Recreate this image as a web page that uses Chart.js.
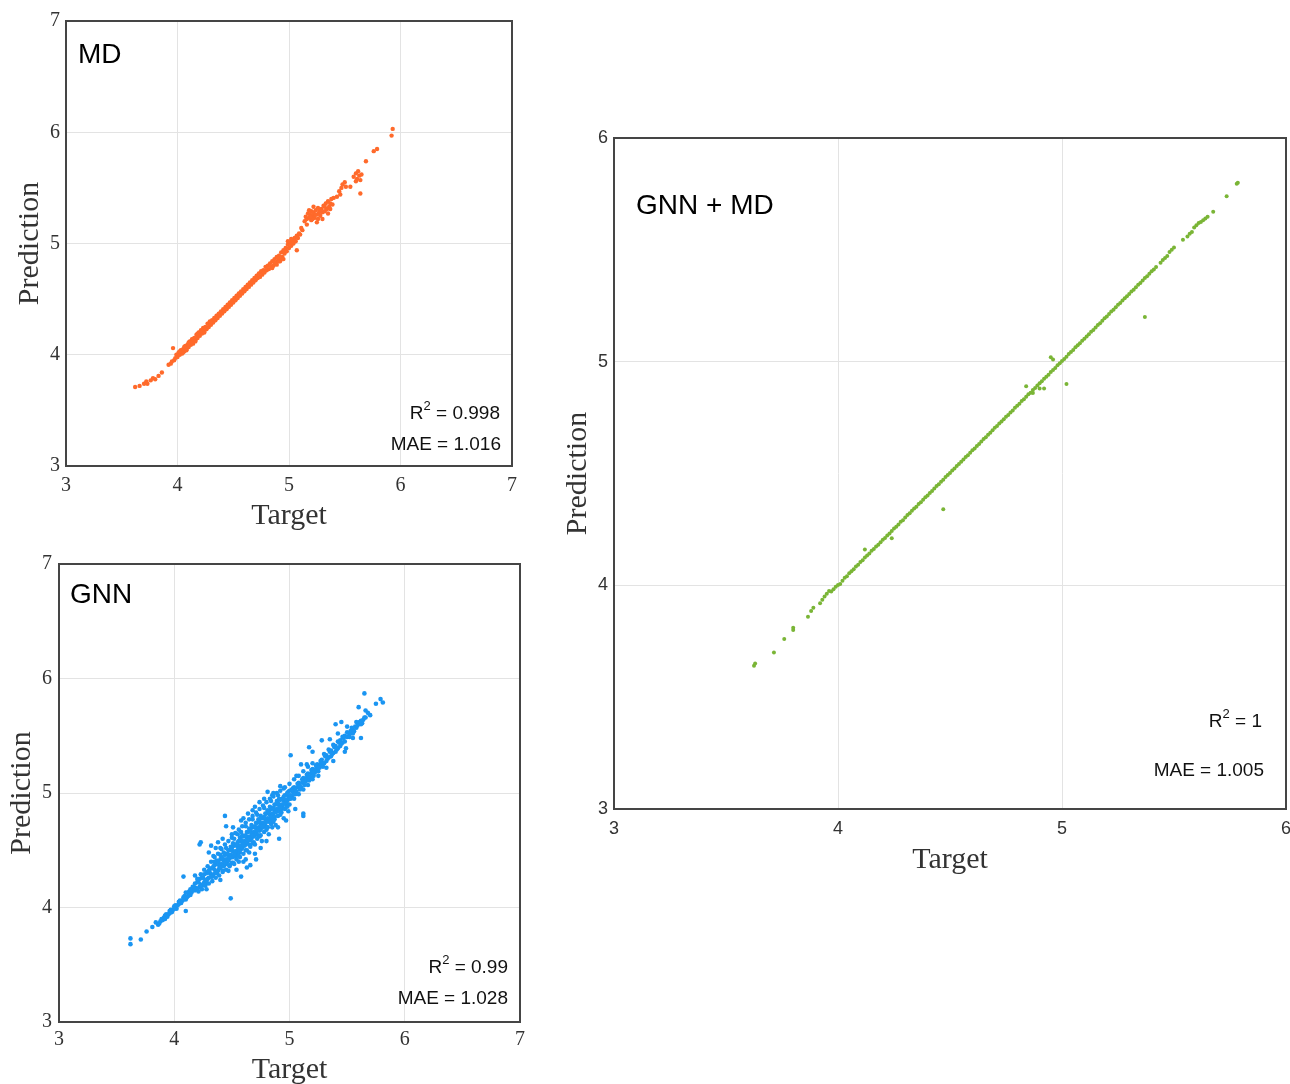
<!DOCTYPE html>
<html>
<head>
<meta charset="utf-8">
<script src="https://cdn.jsdelivr.net/npm/chart.js@4.4.1/dist/chart.umd.min.js"></script>
<style>
  html, body { margin: 0; padding: 0; background: #fff; overflow: hidden; width: 1290px; height: 1084px; }
  canvas { position: absolute; }
</style>
</head>
<body>
<canvas id="c1" width="540" height="545" style="left:0px;top:0px;"></canvas>
<canvas id="c2" width="545" height="560" style="left:0px;top:545px;"></canvas>
<canvas id="c3" width="775" height="800" style="left:545px;top:100px;"></canvas>
<script>
// ---------------- DATA ----------------
const panelLabels = ['MD', 'GNN', 'GNN + MD'];
const r2Values = ['0.998', '0.99', '1'];
const maeValues = ['1.016', '1.028', '1.005'];
const xTitle = 'Target';
const yTitle = 'Prediction';
const ticksSmall = [3, 4, 5, 6, 7];
const ticksLarge = [3, 4, 5, 6];

// MD: [target, prediction]
const mdPairs = [
  [3.62,3.71],[3.66,3.72],[3.70,3.74],[3.72,3.76],[3.73,3.74],[3.76,3.77],[3.78,3.79],[3.80,3.78],
  [3.83,3.81],[3.86,3.84],[3.92,3.91],[3.94,3.92],[3.95,3.94],[3.96,4.06],[3.97,3.95],
  [3.98,3.97],[3.99,4.00],[4.00,3.98],[4.01,4.02],[4.02,4.00],[4.03,4.04],[4.04,4.01],[4.05,4.05],
  [4.06,4.03],[4.07,4.08],[4.08,4.05],[4.09,4.09],[4.10,4.07],[4.11,4.12],[4.12,4.09],[4.13,4.14],
  [4.14,4.10],[4.15,4.15],[4.16,4.13],[4.17,4.18],[4.18,4.15],[4.19,4.20],[4.20,4.17],[4.21,4.22],
  [4.22,4.19],[4.23,4.24],[4.24,4.21],[4.25,4.25],[4.26,4.23],[4.27,4.28],[4.28,4.25],[4.29,4.30],
  [4.30,4.27],[4.31,4.31],[4.32,4.29],[4.33,4.33],[4.34,4.31],[4.35,4.35],[4.36,4.33],[4.37,4.37],
  [4.38,4.35],[4.39,4.39],[4.40,4.37],[4.41,4.41],[4.42,4.39],[4.43,4.43],[4.44,4.41],[4.45,4.45],
  [4.46,4.43],[4.47,4.47],[4.48,4.45],[4.49,4.49],[4.50,4.47],[4.51,4.51],[4.52,4.49],[4.53,4.53],
  [4.54,4.51],[4.55,4.55],[4.56,4.53],[4.57,4.57],[4.58,4.55],[4.59,4.59],[4.60,4.57],[4.61,4.61],
  [4.62,4.59],[4.63,4.63],[4.64,4.61],[4.65,4.65],[4.66,4.63],[4.67,4.67],[4.68,4.65],[4.69,4.69],
  [4.70,4.67],[4.71,4.71],[4.72,4.69],[4.73,4.73],[4.74,4.70],[4.75,4.75],[4.76,4.72],[4.77,4.76],
  [4.78,4.74],[4.79,4.79],[4.80,4.76],[4.81,4.80],[4.82,4.77],[4.83,4.82],[4.84,4.79],[4.85,4.84],
  [4.86,4.80],[4.87,4.86],[4.88,4.82],[4.89,4.88],[4.90,4.84],[4.91,4.89],[4.92,4.86],[4.93,4.92],
  [4.94,4.88],[4.95,4.94],[4.96,4.91],[4.97,4.96],[4.98,4.93],[4.99,4.99],[5.00,4.96],[5.01,5.01],
  [5.02,4.98],[5.03,5.03],[5.04,5.00],[5.05,5.05],[5.06,5.02],[5.07,5.07],[5.08,5.05],[5.09,5.09],
  [5.10,5.08],[5.12,5.12],
  [4.05,4.02],[4.13,4.11],[4.22,4.21],[4.30,4.29],[4.85,4.78],[4.89,4.81],[4.92,4.84],[4.95,4.86],
  [4.90,4.87],[4.87,4.83],[5.07,4.94],[4.91,4.84],[5.02,5.04],[4.99,5.02],[5.11,5.14],[5.16,5.17],
  [4.02,4.03],[4.06,4.07],[4.10,4.11],[4.14,4.14],[4.18,4.19],[4.08,4.04],[4.16,4.12],[4.24,4.20],
  [5.14,5.20],[5.15,5.24],[5.16,5.22],[5.17,5.27],[5.18,5.23],[5.19,5.26],[5.20,5.21],[5.20,5.29],
  [5.21,5.25],[5.22,5.28],[5.23,5.23],[5.24,5.30],[5.25,5.26],[5.26,5.22],[5.26,5.32],[5.27,5.28],
  [5.28,5.25],[5.29,5.31],[5.30,5.28],[5.31,5.34],[5.32,5.29],[5.33,5.36],[5.34,5.31],[5.35,5.38],
  [5.36,5.33],[5.37,5.36],[5.38,5.40],[5.39,5.35],[5.40,5.41],[5.25,5.19],[5.30,5.22],[5.35,5.27],
  [5.22,5.33],[5.18,5.30],[5.37,5.31],[5.21,5.22],[5.24,5.26],[5.28,5.30],[5.32,5.33],[5.19,5.24],
  [5.43,5.42],[5.45,5.47],[5.47,5.50],[5.48,5.53],[5.50,5.55],[5.51,5.51],[5.46,5.44],[5.55,5.51],
  [5.58,5.60],[5.60,5.63],[5.61,5.58],[5.62,5.65],[5.63,5.61],[5.64,5.57],[5.65,5.62],[5.60,5.56],
  [5.64,5.45],[5.69,5.74],[5.76,5.83],[5.79,5.85],[5.92,5.97],[5.93,6.03]
];

// GNN: [target, prediction]
const gnnPairs = [
  [3.86,3.85],[3.88,3.88],[3.90,3.89],[3.92,3.93],[3.94,3.92],[3.96,3.97],[3.98,3.96],[4.00,4.01],
  [4.02,3.99],[4.04,4.05],[4.06,4.04],[4.08,4.09],[4.10,4.07],[4.12,4.13],[4.14,4.11],[4.16,4.18],
  [4.18,4.15],[4.20,4.22],[4.22,4.18],[4.24,4.26],[4.26,4.22],[4.28,4.30],[4.30,4.26],[4.32,4.34],
  [4.34,4.29],[4.36,4.38],[4.38,4.32],[4.40,4.42],[4.42,4.36],[4.44,4.46],[4.46,4.40],[4.48,4.50],
  [4.50,4.44],[4.52,4.54],[4.54,4.47],[4.56,4.58],[4.58,4.51],[4.60,4.62],[4.62,4.55],[4.64,4.66],
  [4.66,4.59],[4.68,4.70],[4.70,4.63],[4.72,4.74],[4.74,4.67],[4.76,4.78],[4.78,4.71],[4.80,4.82],
  [4.82,4.75],[4.84,4.86],[4.86,4.80],[4.88,4.90],[4.90,4.84],[4.92,4.94],[4.94,4.88],[4.96,4.98],
  [4.98,4.93],[5.00,5.02],[5.02,4.97],[5.04,5.05],[5.06,5.01],[5.08,5.09],[5.10,5.05],[5.12,5.13],
  [5.14,5.10],[5.16,5.17],[5.18,5.14],[5.20,5.21],[5.22,5.18],[5.24,5.25],[5.26,5.22],[5.28,5.29],
  [5.30,5.26],[5.32,5.33],[5.34,5.31],[5.36,5.37],[5.38,5.35],[5.40,5.41],[5.42,5.39],[5.44,5.46],
  [5.46,5.44],[5.48,5.50],[5.52,5.51],[5.55,5.55],[5.58,5.57],[5.60,5.61],[5.62,5.60],[5.64,5.64],
  [4.31,4.30],[4.35,4.33],[4.39,4.37],[4.43,4.41],[4.47,4.45],[4.51,4.49],[4.55,4.53],[4.59,4.57],
  [4.63,4.61],[4.67,4.65],[4.71,4.69],[4.75,4.73],[4.79,4.77],[4.83,4.81],[4.87,4.85],[4.91,4.89],
  [4.95,4.93],[4.99,4.97],[5.03,5.01],[5.07,5.05],[5.11,5.09],[5.15,5.13],[5.19,5.17],[5.23,5.21],
  [5.27,5.25],
  [4.29,4.25],[4.31,4.34],[4.33,4.27],[4.35,4.37],[4.37,4.30],[4.37,4.41],[4.39,4.34],[4.41,4.44],
  [4.41,4.38],[4.43,4.36],[4.43,4.48],[4.45,4.42],[4.45,4.38],[4.47,4.50],[4.47,4.41],[4.49,4.46],
  [4.49,4.53],[4.51,4.44],[4.51,4.56],[4.53,4.49],[4.53,4.45],[4.55,4.57],[4.55,4.50],[4.57,4.54],
  [4.57,4.61],[4.57,4.48],[4.59,4.52],[4.59,4.63],[4.61,4.58],[4.61,4.54],[4.63,4.66],[4.63,4.57],
  [4.65,4.62],[4.65,4.69],[4.65,4.55],[4.67,4.60],[4.67,4.72],[4.69,4.66],[4.69,4.62],[4.71,4.74],
  [4.71,4.65],[4.73,4.70],[4.73,4.77],[4.73,4.63],[4.75,4.68],[4.75,4.80],[4.77,4.74],[4.77,4.70],
  [4.79,4.82],[4.79,4.72],[4.81,4.78],[4.81,4.85],[4.81,4.70],[4.83,4.76],[4.83,4.88],[4.85,4.82],
  [4.85,4.78],[4.87,4.90],[4.87,4.79],[4.89,4.86],[4.89,4.93],[4.91,4.85],[4.91,4.95],[4.93,4.90],
  [4.93,4.86],[4.95,4.97],[4.97,4.94],[4.97,4.90],[4.99,5.01],[5.01,4.98],[5.01,4.95],[5.03,5.04],
  [5.05,5.02],[5.05,4.99],[5.07,5.08],[5.09,5.06],[5.09,5.03],[5.11,5.12],[5.13,5.10],[5.13,5.07],
  [5.15,5.16],[5.17,5.14],[5.17,5.11],[5.19,5.20],[5.21,5.18],[5.21,5.15],[5.23,5.24],[5.25,5.22],
  [5.25,5.19],[5.27,5.28],[5.29,5.26],[5.29,5.23],[5.31,5.32],[5.33,5.30],[5.35,5.36],[5.37,5.34],
  [5.39,5.40],[5.41,5.38],[5.43,5.44],[5.45,5.43],[5.47,5.48],[5.50,5.49],[5.53,5.54],[5.57,5.58],
  [5.61,5.62],[5.63,5.61],[5.65,5.66],
  [3.87,3.86],[3.89,3.90],[3.91,3.91],[3.93,3.94],[3.95,3.94],[3.97,3.98],[3.99,3.98],[4.01,4.02],
  [4.03,4.02],[4.05,4.06],[4.07,4.06],[4.09,4.10],[4.11,4.09],[4.13,4.14],[4.15,4.13],[4.17,4.18],
  [4.19,4.17],[4.21,4.22],[4.23,4.20],[4.25,4.26],[4.27,4.24],[4.29,4.31],[4.20,4.16],[4.24,4.19],
  [4.28,4.22],[4.26,4.29],[4.22,4.25],
  [4.20,4.25],[4.23,4.29],[4.26,4.33],[4.29,4.36],[4.32,4.40],[4.35,4.44],[4.38,4.47],[4.41,4.51],
  [4.44,4.55],[4.47,4.58],[4.50,4.61],[4.53,4.65],[4.56,4.68],[4.59,4.71],[4.62,4.74],[4.65,4.77],
  [4.68,4.80],[4.71,4.83],[4.74,4.86],[4.77,4.89],[4.80,4.92],[4.83,4.95],[4.86,4.97],[4.89,5.00],
  [4.92,5.02],[4.96,5.05],[5.00,5.08],[5.04,5.12],[5.08,5.15],[5.12,5.19],[5.16,5.23],[5.20,5.26],
  [4.21,4.14],[4.24,4.16],[4.27,4.19],[4.30,4.21],[4.33,4.23],[4.36,4.26],[4.39,4.28],[4.42,4.31],
  [4.45,4.33],[4.48,4.36],[4.51,4.39],[4.54,4.42],[4.57,4.44],[4.60,4.47],[4.63,4.50],[4.66,4.53],
  [4.69,4.57],[4.72,4.60],[4.75,4.63],[4.78,4.66],[4.81,4.70],[4.84,4.73],[4.87,4.77],[4.90,4.80],
  [4.93,4.83],[4.96,4.86],[5.00,4.90],[5.04,4.95],[5.08,4.99],[5.12,5.03],[5.16,5.07],[5.20,5.12],
  [4.30,4.32],[4.34,4.36],[4.38,4.40],[4.42,4.43],[4.46,4.47],[4.50,4.52],[4.54,4.55],[4.58,4.59],
  [4.62,4.63],[4.66,4.68],[4.70,4.71],[4.74,4.75],[4.78,4.79],[4.82,4.84],[4.86,4.87],[4.90,4.91],
  [4.94,4.95],[4.98,5.00],[5.02,5.03],
  [4.32,4.27],[4.36,4.31],[4.40,4.35],[4.44,4.39],[4.48,4.43],[4.52,4.46],[4.56,4.51],[4.60,4.55],
  [4.64,4.59],[4.68,4.63],[4.72,4.67],[4.76,4.71],[4.80,4.75],[4.84,4.79],[4.88,4.83],[4.92,4.87],
  [4.96,4.91],[5.00,4.95],[5.04,4.99],
  [5.30,5.34],[5.34,5.38],[5.38,5.42],[5.42,5.45],[5.46,5.49],[5.50,5.53],[5.32,5.28],[5.36,5.32],
  [5.40,5.36],[5.44,5.41],[5.48,5.45],[5.52,5.49],[5.56,5.54],[5.54,5.57],[5.59,5.59],[5.62,5.63],
  [3.92,3.90],[3.96,3.95],[4.00,3.99],[4.04,4.03],[4.08,4.07],[4.12,4.10],[4.16,4.15],[4.10,4.13],
  [4.14,4.16],[4.18,4.21],
  [4.45,4.52],[4.52,4.60],[4.58,4.66],[4.62,4.71],[4.68,4.77],[4.72,4.81],[4.78,4.87],[4.84,4.93],
  [4.90,4.98],[4.95,5.04],[4.50,4.39],[4.56,4.45],[4.62,4.50],[4.68,4.56],[4.74,4.62],[4.80,4.68],
  [4.86,4.75],[4.92,4.81],[4.98,4.88],[4.40,4.46],[4.35,4.40],[4.48,4.37],[4.42,4.32],
  [3.62,3.73],[3.62,3.68],[3.71,3.72],[3.76,3.79],[3.81,3.83],[3.84,3.87],
  [4.10,3.97],[4.08,4.27],[4.23,4.57],[4.22,4.55],[4.49,4.08],[4.44,4.80],[4.45,4.71],[4.51,4.70],
  [4.58,4.76],[4.63,4.35],[4.56,4.40],[4.71,4.42],[4.91,4.60],[5.01,5.33],[5.12,4.82],[5.12,4.80],
  [4.99,4.84],[4.81,5.01],[5.17,5.40],[5.28,5.46],[5.40,5.60],[5.45,5.62],[5.49,5.39],[5.62,5.48],
  [4.32,4.54],[4.38,4.57],[4.52,4.38],[4.47,4.32],[4.28,4.16],[4.18,4.28],[4.26,4.20],[4.34,4.45],
  [4.40,4.52],[4.55,4.64],[4.60,4.40],[4.65,4.48],[4.70,4.55],[4.76,4.58],[4.82,4.64],[4.85,4.70],
  [4.88,4.72],[4.95,4.78],[4.78,4.95],[4.70,4.88],[4.64,4.82],[4.86,5.00],[4.92,5.06],[5.06,5.15],
  [5.15,5.25],[5.25,5.15],[5.32,5.22],[5.35,5.47],[5.42,5.52],[5.50,5.58],[5.55,5.48],[5.58,5.62],
  [5.65,5.87],[5.79,5.82],[5.81,5.79],[5.75,5.78],[5.60,5.75],[5.66,5.72],[5.70,5.68],[5.66,5.66],
  [5.68,5.70],[5.55,5.52],
  [4.30,4.48],[4.36,4.52],[4.42,4.60],[4.50,4.64],[4.60,4.78],[4.68,4.85],[4.74,4.92],[4.40,4.24],
  [4.54,4.33],[4.62,4.42],[4.70,4.47],[4.80,4.58],[4.90,4.70],[4.97,4.76],[5.05,4.86],[4.75,4.52],
  [4.58,4.27],[4.66,4.37],[4.85,4.98],[5.20,5.36],[5.10,5.25],[5.38,5.28],[5.48,5.36]
];

// GNN + MD: [target, prediction]
const gnnMdPairs = [
  [3.625,3.64],[3.63,3.65],[3.714,3.70],[3.76,3.76],[3.80,3.81],[3.80,3.80],[3.866,3.86],[3.88,3.885],
  [3.89,3.90],[3.92,3.92],[3.93,3.935],[3.94,3.95],[3.95,3.962],[3.96,3.975],[3.97,3.972],[3.98,3.983],
  [3.99,3.994],[4.00,4.001],[4.01,4.006],[4.02,4.02],[4.03,4.034],[4.04,4.041],[4.05,4.054],[4.06,4.063],
  [4.07,4.072],[4.08,4.084],[4.09,4.092],[4.10,4.104],[4.11,4.112],[4.12,4.124],[4.13,4.133],[4.14,4.142],
  [4.15,4.155],[4.16,4.163],[4.17,4.174],[4.18,4.181],[4.19,4.193],[4.20,4.204],[4.21,4.212],[4.22,4.223],
  [4.23,4.232],[4.24,4.243],[4.25,4.254],[4.26,4.262],[4.27,4.272],[4.28,4.284],[4.29,4.291],[4.30,4.303],
  [4.31,4.314],[4.32,4.322],[4.33,4.334],[4.34,4.343],[4.35,4.351],[4.36,4.364],[4.37,4.372],[4.38,4.383],
  [4.39,4.394],[4.40,4.402],[4.41,4.413],[4.42,4.422],[4.43,4.433],[4.44,4.444],[4.45,4.452],[4.46,4.463],
  [4.47,4.472],[4.48,4.484],[4.49,4.493],[4.50,4.502],[4.51,4.513],[4.52,4.522],[4.53,4.534],[4.54,4.543],
  [4.55,4.552],[4.56,4.563],[4.57,4.574],[4.58,4.582],[4.59,4.593],[4.60,4.604],[4.61,4.612],[4.62,4.623],
  [4.63,4.632],[4.64,4.643],[4.65,4.654],[4.66,4.662],[4.67,4.673],[4.68,4.682],[4.69,4.693],[4.70,4.704],
  [4.71,4.712],[4.72,4.723],[4.73,4.733],[4.74,4.742],[4.75,4.754],[4.76,4.762],[4.77,4.773],[4.78,4.782],
  [4.79,4.794],[4.80,4.803],[4.81,4.812],[4.82,4.824],[4.83,4.832],[4.84,4.843],[4.85,4.854],[4.86,4.861],
  [4.87,4.873],[4.88,4.882],[4.89,4.894],[4.90,4.903],[4.91,4.912],[4.92,4.924],[4.93,4.933],[4.94,4.942],
  [4.95,4.954],[4.96,4.963],[4.97,4.972],[4.98,4.984],[4.99,4.993],[5.00,5.003],[5.01,5.012],[5.02,5.022],
  [5.03,5.034],[5.04,5.043],[5.05,5.052],[5.06,5.064],[5.07,5.073],[5.08,5.082],[5.09,5.094],[5.10,5.103],
  [5.11,5.112],[5.12,5.123],[5.13,5.134],[5.14,5.142],[5.15,5.153],[5.16,5.164],[5.17,5.172],[5.18,5.183],
  [5.19,5.194],[5.20,5.202],[5.21,5.213],[5.22,5.224],[5.23,5.232],[5.24,5.243],[5.25,5.254],[5.26,5.262],
  [5.27,5.273],[5.28,5.284],[5.29,5.292],[5.30,5.303],[5.31,5.314],[5.32,5.322],[5.33,5.333],[5.34,5.344],
  [5.35,5.352],[5.36,5.363],[5.37,5.374],[5.38,5.382],[5.39,5.393],[5.40,5.404],[5.41,5.412],[5.42,5.423],
  [5.44,5.442],[5.45,5.454],[5.46,5.463],[5.47,5.472],[5.48,5.49],[5.49,5.50],[5.50,5.51],
  [5.54,5.545],[5.56,5.56],[5.57,5.572],[5.58,5.58],[5.59,5.60],[5.60,5.61],[5.61,5.62],[5.62,5.625],
  [5.63,5.632],[5.64,5.64],[5.65,5.648],[5.675,5.67],[5.735,5.74],[5.78,5.795],[5.785,5.80],
  [4.47,4.34],[4.24,4.21],[4.12,4.16],[4.84,4.89],[4.95,5.02],[4.96,5.01],[5.02,4.90],[5.37,5.20],
  [4.92,4.88],[4.90,4.88],[4.87,4.86]
];

// ---------------- DRAWING ----------------
const decor = {
  id: 'panelDecor',
  afterDraw(chart, args, d) {
    const ctx = chart.ctx;
    const a = chart.chartArea;
    ctx.save();
    ctx.strokeStyle = '#454545';
    ctx.lineWidth = 2;
    ctx.strokeRect(a.left, a.top, a.right - a.left, a.bottom - a.top);
    ctx.fillStyle = '#000';
    ctx.textBaseline = 'middle';
    ctx.textAlign = 'left';
    ctx.font = '28px "Liberation Sans", Arial, sans-serif';
    ctx.fillText(d.label, d.labelX, d.labelY);
    const big = '19px "Liberation Sans", Arial, sans-serif';
    const small = '13px "Liberation Sans", Arial, sans-serif';
    ctx.fillStyle = '#111';
    ctx.font = big;
    const rest = ' = ' + d.r2;
    const wR = ctx.measureText('R').width;
    const wRest = ctx.measureText(rest).width;
    ctx.font = small;
    const w2 = ctx.measureText('2').width;
    const x0 = d.r2Right - (wR + w2 + wRest);
    ctx.font = big;
    ctx.fillText('R', x0, d.r2Y);
    ctx.font = small;
    ctx.fillText('2', x0 + wR, d.r2Y - 8);
    ctx.font = big;
    ctx.fillText(rest, x0 + wR + w2, d.r2Y);
    ctx.textAlign = 'right';
    ctx.fillText('MAE = ' + d.mae, d.maeRight, d.maeY);
    ctx.restore();
  }
};

function build(id, pairs, color, radius, o) {
  const canvas = document.getElementById(id);
  const tickFont = { family: o.tickFamily, size: o.tickSize };
  const titleFont = { family: '"Liberation Serif", "Times New Roman", serif', size: 30 };
  return new Chart(canvas.getContext('2d'), {
    type: 'scatter',
    data: {
      datasets: [{
        data: pairs.map(p => ({ x: p[0], y: p[1] })),
        backgroundColor: color,
        borderWidth: 0,
        pointRadius: radius,
        pointHoverRadius: radius
      }]
    },
    options: {
      responsive: false,
      animation: false,
      events: [],
      layout: { padding: { left: 0, top: o.area.t, right: o.w - o.area.r, bottom: 0 } },
      plugins: {
        legend: { display: false },
        tooltip: { enabled: false },
        panelDecor: o.decor
      },
      scales: {
        x: {
          type: 'linear',
          min: o.ticks[0], max: o.ticks[o.ticks.length - 1],
          afterBuildTicks: s => { s.ticks = o.ticks.map(v => ({ value: v })); },
          ticks: { font: tickFont, color: '#333', padding: o.xTickPad, maxRotation: 0 },
          grid: { color: '#e3e3e3', lineWidth: 1, drawTicks: false },
          border: { display: false },
          title: { display: true, text: xTitle, font: titleFont, color: '#333', padding: { top: 0, bottom: o.xTitlePad } },
          afterFit: s => { s.height = o.h - o.area.b; }
        },
        y: {
          type: 'linear',
          min: o.ticks[0], max: o.ticks[o.ticks.length - 1],
          afterBuildTicks: s => { s.ticks = o.ticks.map(v => ({ value: v })); },
          ticks: { font: tickFont, color: '#333', padding: o.yTickPad },
          grid: { color: '#e3e3e3', lineWidth: 1, drawTicks: false },
          border: { display: false },
          title: { display: true, text: yTitle, font: titleFont, color: '#333', padding: { top: o.yTitlePad, bottom: 0 } },
          afterFit: s => { s.width = o.area.l; }
        }
      }
    },
    plugins: [decor]
  });
}

const serif = '"Liberation Serif", "Times New Roman", serif';
const sans = '"Liberation Sans", Arial, sans-serif';

build('c1', mdPairs, '#FF6A2B', 2.2, {
  w: 540, h: 545, area: { l: 66, t: 21, r: 512, b: 466 }, ticks: ticksSmall,
  tickFamily: serif, tickSize: 20, xTickPad: 8, yTickPad: 6, xTitlePad: 11, yTitlePad: 12,
  decor: { label: panelLabels[0], labelX: 78, labelY: 55, r2: r2Values[0], r2Right: 500, r2Y: 414, mae: maeValues[0], maeRight: 501, maeY: 445 }
});
build('c2', gnnPairs, '#1A95F2', 2.3, {
  w: 545, h: 560, area: { l: 59, t: 16, r: 520, b: 477 }, ticks: ticksSmall,
  tickFamily: serif, tickSize: 20, xTickPad: 6, yTickPad: 7, xTitlePad: 17, yTitlePad: 4,
  decor: { label: panelLabels[1], labelX: 70, labelY: 50, r2: r2Values[1], r2Right: 508, r2Y: 423, mae: maeValues[1], maeRight: 508, maeY: 454 }
});
build('c3', gnnMdPairs, '#7AB536', 2.0, {
  w: 775, h: 800, area: { l: 69, t: 38, r: 741, b: 709 }, ticks: ticksLarge,
  tickFamily: sans, tickSize: 18, xTickPad: 9, yTickPad: 6, xTitlePad: 22, yTitlePad: 15,
  decor: { label: panelLabels[2], labelX: 91, labelY: 106, r2: r2Values[2], r2Right: 717, r2Y: 622, mae: maeValues[2], maeRight: 719, maeY: 671 }
});
</script>
</body>
</html>
